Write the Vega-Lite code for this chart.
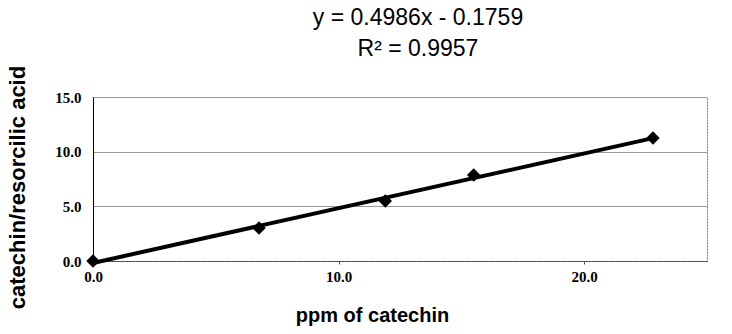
{
  "$schema": "https://vega.github.io/schema/vega-lite/v6.json",
  "width": 614,
  "height": 164,
  "autosize": {"type": "none"},
  "padding": {"left": 93, "top": 97, "right": 25, "bottom": 73},
  "background": "white",
  "config": {
    "view": {"stroke": "#777", "strokeDash": [2, 1], "strokeWidth": 1}
  },
  "title": {
    "text": ["y = 0.4986x - 0.1759", "R² = 0.9957"],
    "font": "Liberation Sans",
    "fontSize": 23,
    "fontWeight": "normal",
    "color": "black",
    "anchor": "middle",
    "frame": "group",
    "dx": 18,
    "lineHeight": 31,
    "offset": 4
  },
  "data": {
    "values": [
      {"ppm": 0, "ratio": 0},
      {"ppm": 6.76, "ratio": 3.02},
      {"ppm": 11.9, "ratio": 5.49},
      {"ppm": 15.5, "ratio": 7.87},
      {"ppm": 22.8, "ratio": 11.25}
    ]
  },
  "layer": [
    {
      "transform": [
        {"regression": "ratio", "on": "ppm", "method": "linear", "extent": [0, 22.8]}
      ],
      "mark": {"type": "line", "color": "black", "strokeWidth": 4},
      "encoding": {
        "x": {"field": "ppm", "type": "quantitative"},
        "y": {"field": "ratio", "type": "quantitative"}
      }
    },
    {
      "mark": {"type": "point", "shape": "diamond", "filled": true, "color": "black", "size": 180, "opacity": 1},
      "encoding": {
        "x": {
          "field": "ppm",
          "type": "quantitative",
          "scale": {"domain": [0, 25], "nice": false, "zero": true},
          "axis": {
            "title": "ppm of catechin",
            "titleFont": "Liberation Sans",
            "titleFontSize": 20,
            "titleFontWeight": "bold",
            "titleColor": "black",
            "titleX": 279,
            "titleY": 54,
            "titleBaseline": "middle",
            "titleAnchor": "middle",
            "values": [0, 10, 20],
            "format": ".1f",
            "labelFont": "Liberation Serif",
            "labelFontWeight": "bold",
            "labelFontSize": 15,
            "labelColor": "black",
            "labelPadding": 5,
            "labelFlush": false,
            "ticks": true,
            "tickSize": 3,
            "tickColor": "#555",
            "domainColor": "#333",
            "domainDash": [2, 1],
            "grid": false
          }
        },
        "y": {
          "field": "ratio",
          "type": "quantitative",
          "scale": {"domain": [0, 15], "nice": false},
          "axis": {
            "title": "catechin/resorcilic acid",
            "titleFont": "Liberation Sans",
            "titleFontSize": 22,
            "titleFontWeight": "bold",
            "titleColor": "black",
            "titleX": -76,
            "titleY": 90,
            "titleAngle": -90,
            "titleBaseline": "middle",
            "titleAnchor": "middle",
            "values": [0, 5, 10, 15],
            "format": ".1f",
            "labelFont": "Liberation Serif",
            "labelFontWeight": "bold",
            "labelFontSize": 15,
            "labelColor": "black",
            "labelPadding": 12,
            "labelFlush": false,
            "ticks": false,
            "domainColor": "black",
            "grid": true,
            "gridColor": "#999",
            "gridWidth": 1
          }
        }
      }
    }
  ]
}
